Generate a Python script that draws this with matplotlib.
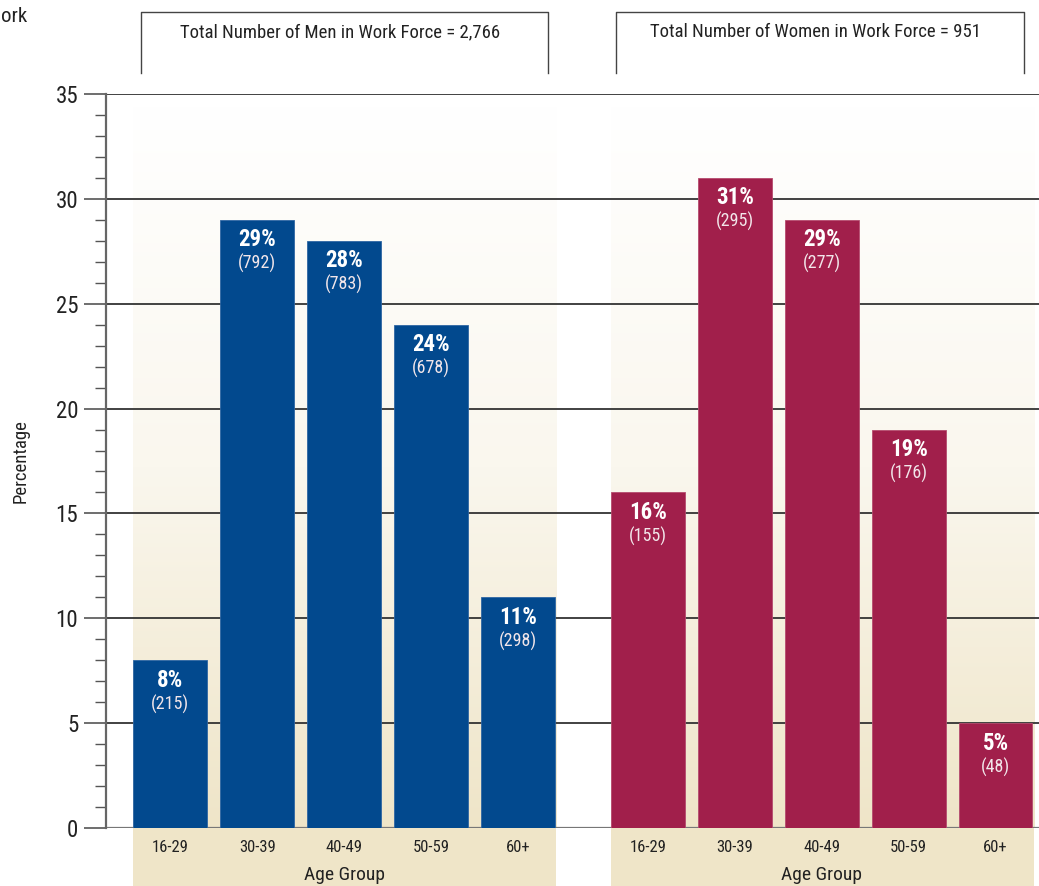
import matplotlib
matplotlib.use("Agg")
import matplotlib.pyplot as plt
import matplotlib.transforms as mtransforms
from matplotlib import font_manager
from matplotlib.colors import LinearSegmentedColormap
from matplotlib.lines import Line2D
from matplotlib.patches import Rectangle
import numpy as np

# prefer a narrow face if one is around
names = {f.name for f in font_manager.fontManager.ttflist}
narrow = [n for n in ('Liberation Sans Narrow', 'Roboto Condensed', 'Open Sans Condensed',
                      'DejaVu Sans Condensed') if n in names]
plt.rcParams['font.family'] = narrow + ['DejaVu Sans']
plt.rcParams['font.stretch'] = 'condensed'

age_groups = ['16-29', '30-39', '40-49', '50-59', '60+']
men_pct = [8, 29, 28, 24, 11]
men_count = [215, 792, 783, 678, 298]
women_pct = [16, 31, 29, 19, 5]
women_count = [155, 295, 277, 176, 48]
men_total = '2,766'
women_total = '951'

W, H = 1039, 886
BLUE = '#02498E'
RED = '#A11F4B'
BEIGE = '#EFE5C8'

fig = plt.figure(figsize=(W / 100, H / 100), dpi=100)
ax = fig.add_axes([106 / W, 58 / H, 1 - 106 / W, (828 - 94) / H])

men_x = np.arange(len(age_groups))
women_x = men_x + 5.5
width = 0.85

# shaded panels behind each group of bars, fading out towards the top
fade = LinearSegmentedColormap.from_list('fade', ['#FFFFFF', '#FAF7EE', BEIGE])
grad = np.linspace(0, 1, 256).reshape(-1, 1)
label_band = mtransforms.blended_transform_factory(ax.transData, ax.transAxes)
for xs in (men_x, women_x):
    x0, x1 = xs[0] - width / 2, xs[-1] + width / 2 + 0.02
    ax.imshow(grad, cmap=fade, aspect='auto', extent=[x0, x1, 0, 34.35],
              origin='upper', zorder=0, interpolation='bicubic')
    ax.add_patch(Rectangle((x0, -58 / 734), x1 - x0, 58 / 734, transform=label_band,
                           facecolor=BEIGE, edgecolor='none', clip_on=False, zorder=0))

ax.set_xlim(-0.74, 10.0)
ax.set_ylim(0, 35)

# horizontal rules
for y in range(0, 36, 5):
    ax.axhline(y, color='#333333' if y else '#777777', lw=1.3 if y else 1.6, zorder=1)

men_bars = ax.bar(men_x, men_pct, width=width, color=BLUE, edgecolor='#2E66A3',
                  linewidth=0.6, zorder=2)
women_bars = ax.bar(women_x, women_pct, width=width, color=RED, edgecolor='#B54B6E',
                    linewidth=0.6, zorder=2)

for bars, pct, cnt in ((men_bars, men_pct, men_count), (women_bars, women_pct, women_count)):
    for b, p, c in zip(bars, pct, cnt):
        cx = b.get_x() + b.get_width() / 2
        ax.annotate(f'{p}%', (cx, p), xytext=(0, -20), textcoords='offset pixels',
                    ha='center', va='center', color='white', fontsize=16.5,
                    fontweight='bold', zorder=3)
        ax.annotate(f'({c})', (cx, p), xytext=(0, -44), textcoords='offset pixels',
                    ha='center', va='center', color='#F2E6EA', fontsize=13, zorder=3)

# axes styling
for side in ('top', 'right', 'bottom'):
    ax.spines[side].set_visible(False)
ax.spines['left'].set_color('#666666')
ax.spines['left'].set_linewidth(1.6)

ax.set_yticks(range(0, 36, 5))
ax.set_yticks(range(0, 36), minor=True)
ax.tick_params(axis='y', which='major', length=16, width=1.2, color='#555555',
               labelsize=16.5, labelcolor='#222222', pad=4)
ax.tick_params(axis='y', which='minor', length=8, width=1.0, color='#555555')

ax.set_xticks(np.concatenate([men_x, women_x]))
ax.set_xticklabels(age_groups * 2)
ax.tick_params(axis='x', length=0, labelsize=12, labelcolor='#222222', pad=9)

ax.set_ylabel('Percentage', fontsize=13.5, color='#222222')
ax.yaxis.set_label_coords(-76 / (W - 106), 0.5)

for xs in (men_x, women_x):
    ax.text(xs.mean(), -0.064, 'Age Group', transform=label_band, ha='center',
            va='center', fontsize=14, color='#222222')


# header boxes over each panel
def fx(px):
    return px / W


def fy(py):
    return 1 - py / H


for (left, right), title in (((141, 548), f'Total Number of Men in Work Force = {men_total}'),
                             ((616, 1024), f'Total Number of Women in Work Force = {women_total}')):
    fig.add_artist(Line2D([fx(left), fx(left), fx(right), fx(right)],
                          [fy(73), fy(12), fy(12), fy(73)], color='#444444', lw=1.0))
    fig.text(fx((left + right) / 2 - 4), fy(32), title, ha='center', va='center',
             fontsize=13.5, color='#222222')

fig.text(fx(1), fy(17), 'ork', ha='left', va='center', fontsize=15, color='#222222')

fig.savefig('out.png', dpi=100)
